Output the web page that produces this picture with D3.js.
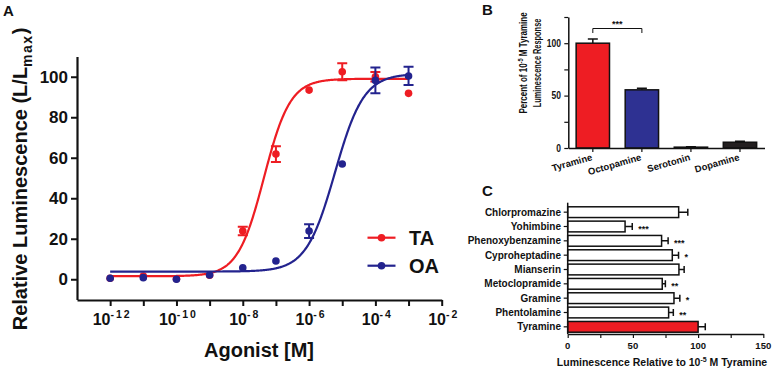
<!DOCTYPE html>
<html><head><meta charset="utf-8">
<script src="https://cdn.jsdelivr.net/npm/d3@7"></script>
<style>
html,body{margin:0;padding:0;background:#fff;}
text{font-family:"Liberation Sans",Arial,sans-serif;font-weight:bold;fill:#111;}
</style></head>
<body><svg id="c" width="776" height="376"></svg>
<script>
// ---------- Panel A data ----------
const logConc = [-12,-11,-10,-9,-8,-7,-6,-5,-4,-3];
const taValues = [0.5,1.6,0.2,2.0,23.8,61.8,93.4,102.5,100.0,91.8];
const taErrors = [0,0,0,0,2.1,3.9,0,4.2,2.4,0];
const oaValues = [0.5,0.8,0.0,2.1,5.7,9.0,23.8,56.9,98.2,100.4];
const oaErrors = [0,0,0,0,0,0,3.4,0,6.4,4.5];
// fitted four-parameter logistic: [bottom, top, logEC50, hill]
const taFit = [1.5, 99, -7.36, 1.1];
const oaFit = [3.8, 101.5, -5.22, 1.0];
const xTicksA = [-12,-11,-10,-9,-8,-7,-6,-5,-4,-3,-2];
const xLabelsA = [-12,-10,-8,-6,-4,-2];
const yTicksA = [0,20,40,60,80,100];
const seriesNames = ["TA","OA"];

// ---------- Panel B data ----------
const agonists = ["Tyramine","Octopamine","Serotonin","Dopamine"];
const agonistValues = [100, 55.5, 0.8, 5.5];
const agonistErrors = [4, 1.5, 0.3, 1.0];
const yTicksB = [0,50,100];
const yMinorB = [25,75,125];

// ---------- Panel C data ----------
const antagonists = ["Chlorpromazine","Yohimbine","Phenoxybenzamine","Cyproheptadine","Mianserin","Metoclopramide","Gramine","Phentolamine","Tyramine"];
const antagonistValues = [85.1, 44.0, 72.0, 80.2, 85.3, 72.5, 81.5, 77.4, 100];
const antagonistErrors = [7.0, 5.5, 5.0, 4.8, 4.0, 2.4, 4.5, 3.6, 5.5];
const antagonistSig = ["","***","***","*","","**","*","**",""];
const xTicksC = [0,50,100,150];
const xMinorC = [25,75,125];

const RED = "#EE1D23", BLUE = "#23238E", BAR_BLUE = "#2E3192", DARK = "#231F20";
const svg = d3.select("#c");

// ================= Panel A =================
const xA = d3.scaleLinear().domain([-13,-2]).range([77,441.7]);
const yA = d3.scaleLinear().domain([-10,110]).range([299.5,56.5]);
const gA = svg.append("g");

const xAxA = d3.axisBottom(xA).tickValues(xTicksA).tickSize(6).tickSizeOuter(0).tickFormat("");
gA.append("g").attr("transform","translate(0,300)").call(xAxA)
  .call(g=>{g.select(".domain").attr("stroke","#111").attr("stroke-width",2.2);
            g.selectAll(".tick line").attr("stroke","#111").attr("stroke-width",2);});
const yAxA = d3.axisLeft(yA).tickValues(yTicksA).tickSize(6).tickSizeOuter(0).tickFormat("");
gA.append("g").attr("transform","translate(77,0)").call(yAxA)
  .call(g=>{g.select(".domain").attr("stroke","#111").attr("stroke-width",2.2);
            g.selectAll(".tick line").attr("stroke","#111").attr("stroke-width",2);});
gA.selectAll(".ylabA").data(yTicksA).join("text")
  .attr("x",68).attr("y",d=>yA(d)).attr("dy","0.36em").attr("text-anchor","end")
  .style("font-size","17px").text(d=>d);
const xl = gA.selectAll(".xlabA").data(xLabelsA).join("text")
  .attr("x",d=>xA(d)+2).attr("y",325).attr("text-anchor","middle").style("font-size","16px");
xl.append("tspan").text("10");
xl.append("tspan").attr("dy",-7).style("font-size","10.5px").style("letter-spacing","2px").text(d=>String(d));

gA.append("text").attr("x",259).attr("y",357).attr("text-anchor","middle")
  .style("font-size","20px").text("Agonist [M]");
const yt = gA.append("text").attr("transform","translate(27,179) rotate(-90)")
  .attr("text-anchor","middle").style("font-size","20px");
yt.append("tspan").text("Relative Luminescence (L/L");
yt.append("tspan").attr("dy",5).style("font-size","14px").style("letter-spacing","1.5px").text("max");
yt.append("tspan").attr("dy",-5).text(")");
svg.append("text").attr("x",3).attr("y",16).style("font-size","15px").text("A");

function logistic(p,x){return p[0]+(p[1]-p[0])/(1+Math.pow(10,(p[2]-x)*p[3]));}
const curveX = d3.range(-12,-2.999,0.02);
const line = d3.line().x(d=>xA(d[0])).y(d=>yA(d[1]));
function drawSeries(vals,errs,fit,color){
  const g = gA.append("g");
  g.append("path").datum(curveX.map(x=>[x,logistic(fit,x)]))
    .attr("d",line).attr("fill","none").attr("stroke",color).attr("stroke-width",2.2);
  const idx = d3.range(vals.length).filter(i=>errs[i]>0);
  g.selectAll(".eb").data(idx).join("path")
    .attr("d",i=>{const x=xA(logConc[i]),y1=yA(vals[i]-errs[i]),y2=yA(vals[i]+errs[i]);
      return `M${x},${y1}V${y2}M${x-5},${y1}H${x+5}M${x-5},${y2}H${x+5}`;})
    .attr("stroke",color).attr("stroke-width",2).attr("fill","none");
  g.selectAll("circle").data(vals).join("circle")
    .attr("cx",(d,i)=>xA(logConc[i])).attr("cy",d=>yA(d)).attr("r",3.8).attr("fill",color);
}
drawSeries(taValues,taErrors,taFit,RED);
drawSeries(oaValues,oaErrors,oaFit,BLUE);

const legY = d3.scalePoint().domain(seriesNames).range([237.7,265.7]);
const legColors = d3.scaleOrdinal().domain(seriesNames).range([RED,BLUE]);
const lg = gA.selectAll(".leg").data(seriesNames).join("g")
  .attr("transform",d=>`translate(0,${legY(d)})`);
lg.append("line").attr("x1",367.5).attr("x2",395.5).attr("stroke",d=>legColors(d)).attr("stroke-width",2.2);
lg.append("circle").attr("cx",381.5).attr("r",3.8).attr("fill",d=>legColors(d));
lg.append("text").attr("x",409).attr("dy","0.36em").style("font-size","20px").text(d=>d);

// ================= Panel B =================
const gB = svg.append("g");
const xB = d3.scaleBand().domain(agonists).range([568.3,764.5]).paddingInner(0.32).paddingOuter(0.16);
const yB = d3.scaleLinear().domain([0,125]).range([148,17]);
const barColB = d3.scaleOrdinal().domain(agonists).range([RED,BAR_BLUE,DARK,DARK]);
gB.selectAll(".eb").data(agonists).join("path")
  .attr("d",(d,i)=>{const x=xB(d)+xB.bandwidth()/2,y0=yB(agonistValues[i]),y2=yB(agonistValues[i]+agonistErrors[i]);
    return `M${x},${y0}V${y2}M${x-5},${y2}H${x+5}`;})
  .attr("stroke","#111").attr("stroke-width",1.5);
gB.selectAll("rect").data(agonists).join("rect")
  .attr("x",d=>xB(d)).attr("width",xB.bandwidth())
  .attr("y",(d,i)=>yB(agonistValues[i])).attr("height",(d,i)=>yB(0)-yB(agonistValues[i]))
  .attr("fill",d=>barColB(d)).attr("stroke","#111").attr("stroke-width",1.5);
gB.append("g").attr("transform","translate(568.3,0)")
  .call(d3.axisLeft(yB).tickValues(yTicksB.concat(yMinorB)).tickSize(4).tickSizeOuter(0).tickFormat(""))
  .call(g=>{g.select(".domain").attr("stroke","#111").attr("stroke-width",1.5);
            g.selectAll(".tick line").attr("stroke","#111").attr("stroke-width",1.2);});
gB.selectAll(".ylb").data(yTicksB).join("text")
  .attr("transform",d=>`translate(561,${yB(d)}) scale(0.85,1)`).attr("dy","0.36em").attr("text-anchor","end")
  .style("font-size","10px").text(d=>d);
gB.append("g").attr("transform","translate(0,148)")
  .call(d3.axisBottom(xB).tickSize(4).tickSizeOuter(0).tickFormat(""))
  .call(g=>{g.select(".domain").attr("stroke","#111").attr("stroke-width",1.5);
            g.selectAll(".tick line").attr("stroke","#111").attr("stroke-width",1.2);});
gB.selectAll(".xlb").data(agonists).join("text")
  .attr("transform",d=>`translate(${xB(d)+xB.bandwidth()/2},160) rotate(-16)`)
  .attr("text-anchor","end").style("font-size","9.5px").text(d=>d);
const bx1 = xB(agonists[0])+xB.bandwidth()/2, bx2 = xB(agonists[1])+xB.bandwidth()/2;
gB.append("path").attr("d",`M${bx1},33V28.5H${bx2}V33`).attr("fill","none").attr("stroke","#111").attr("stroke-width",1);
gB.append("text").attr("x",(bx1+bx2)/2).attr("y",27).attr("text-anchor","middle").style("font-size","9px").text("***");
const ybt = gB.append("text").attr("transform","translate(526.5,63) rotate(-90) scale(0.8,1)").attr("text-anchor","middle").style("font-size","10px");
ybt.append("tspan").text("Percent of 10");
ybt.append("tspan").attr("dy",-4).style("font-size","7px").text("-5");
ybt.append("tspan").attr("dy",4).text(" M Tyramine");
gB.append("text").attr("transform","translate(541,63) rotate(-90) scale(0.74,1)")
  .attr("text-anchor","middle").style("font-size","10px").text("Luminescence Response");
svg.append("text").attr("x",482).attr("y",15).style("font-size","15px").text("B");

// ================= Panel C =================
const gC = svg.append("g");
const xC = d3.scaleLinear().domain([0,150]).range([567.7,763.3]);
const yC = d3.scaleBand().domain(antagonists).range([205,334]).paddingInner(0.25).paddingOuter(0.125);
gC.selectAll(".eb").data(antagonists).join("path")
  .attr("d",(d,i)=>{const y=yC(d)+yC.bandwidth()/2,x0=xC(antagonistValues[i]),x2=xC(antagonistValues[i]+antagonistErrors[i]);
    return `M${x0},${y}H${x2}M${x2},${y-3.5}V${y+3.5}`;})
  .attr("stroke","#111").attr("stroke-width",1.5);
gC.selectAll("rect").data(antagonists).join("rect")
  .attr("x",xC(0)).attr("y",d=>yC(d)).attr("height",yC.bandwidth())
  .attr("width",(d,i)=>xC(antagonistValues[i])-xC(0))
  .attr("fill",(d,i)=>i===antagonists.length-1?RED:"#fff").attr("stroke","#111").attr("stroke-width",1.5);
gC.selectAll(".sig").data(antagonists).join("text")
  .attr("x",(d,i)=>xC(antagonistValues[i]+antagonistErrors[i])+6)
  .attr("y",d=>yC(d)+yC.bandwidth()/2+5).style("font-size","9px").text((d,i)=>antagonistSig[i]);
gC.append("g").attr("transform","translate(567.7,0)")
  .call(d3.axisLeft(yC).tickSize(4).tickSizeOuter(0).tickFormat(""))
  .call(g=>{g.select(".domain").attr("d","M0,202.7V334").attr("stroke","#111").attr("stroke-width",1.5);
            g.selectAll(".tick line").attr("stroke","#111").attr("stroke-width",1.2);});
gC.selectAll(".ylc").data(antagonists).join("text")
  .attr("x",561).attr("y",d=>yC(d)+yC.bandwidth()/2).attr("dy","0.36em").attr("text-anchor","end")
  .style("font-size","10px").text(d=>d);
gC.append("g").attr("transform","translate(0,334)")
  .call(d3.axisBottom(xC).tickValues(xTicksC.concat(xMinorC)).tickSize(4).tickSizeOuter(0).tickFormat(""))
  .call(g=>{g.select(".domain").attr("stroke","#111").attr("stroke-width",1.5);
            g.selectAll(".tick line").attr("stroke","#111").attr("stroke-width",1.2);});
gC.selectAll(".xlc").data(xTicksC).join("text")
  .attr("x",d=>xC(d)).attr("y",349).attr("text-anchor","middle").style("font-size","9.5px").text(d=>d);
const xct = gC.append("text").attr("x",662).attr("y",366).attr("text-anchor","middle").style("font-size","10.5px");
xct.append("tspan").text("Luminescence Relative to 10");
xct.append("tspan").attr("dy",-4).style("font-size","7px").text("-5");
xct.append("tspan").attr("dy",4).text(" M Tyramine");
svg.append("text").attr("x",482).attr("y",196).style("font-size","15px").text("C");
</script></body></html>
